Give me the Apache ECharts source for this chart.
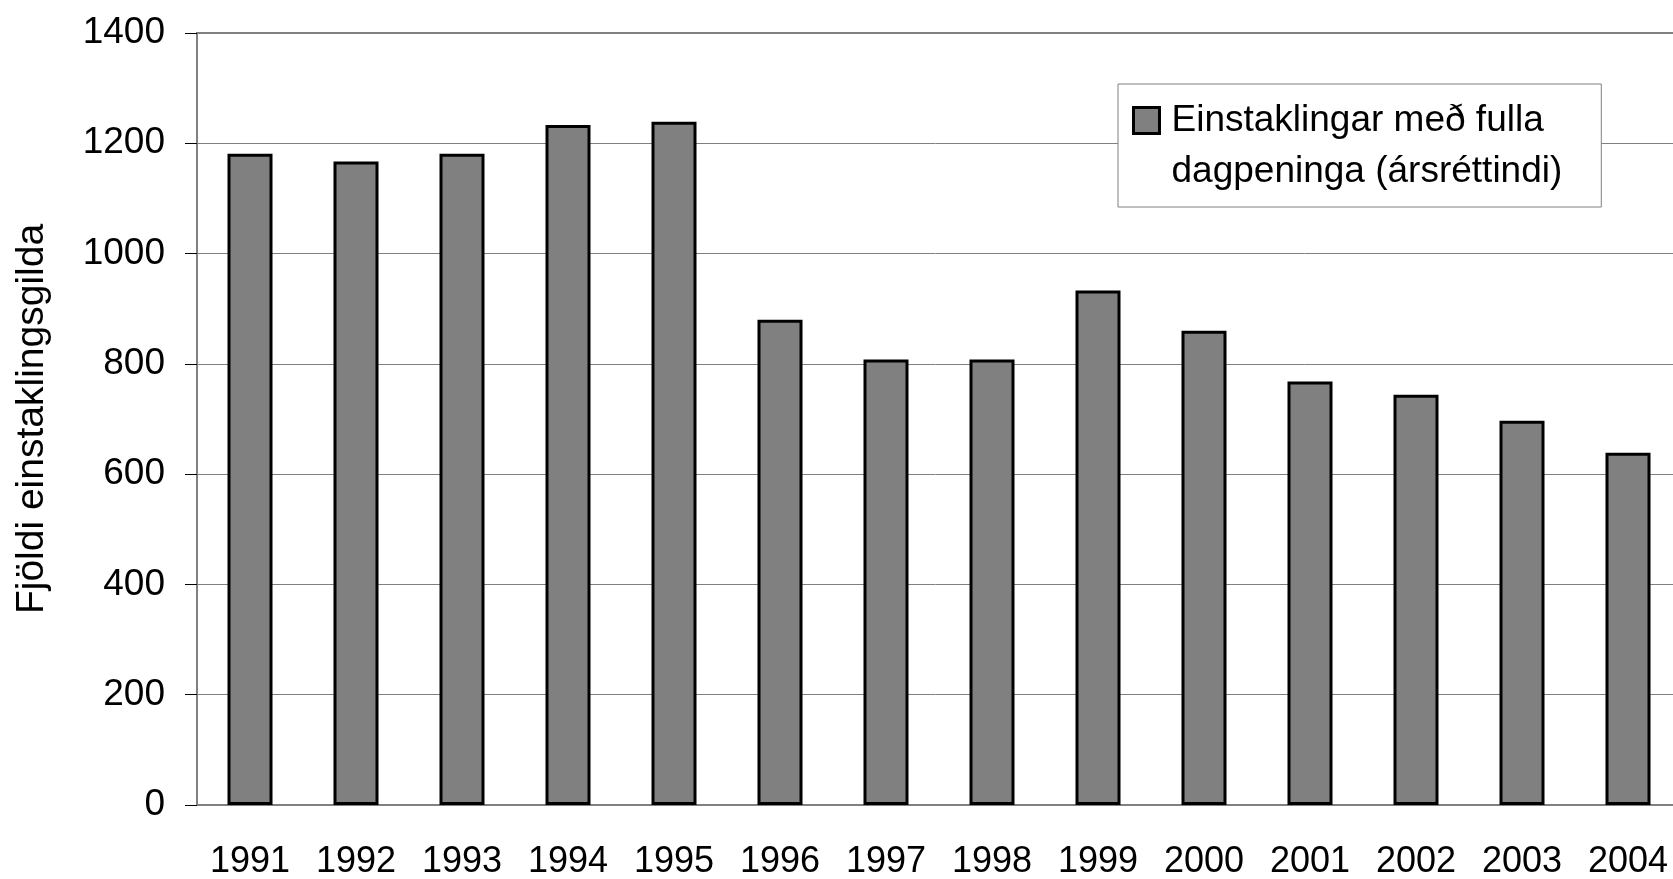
<!DOCTYPE html>
<html>
<head>
<meta charset="utf-8">
<script src="https://cdn.jsdelivr.net/npm/echarts@6/dist/echarts.min.js"></script>
<style>
  html, body { margin: 0; padding: 0; background: #fff; }
  #chart { width: 1673px; height: 879px; }
</style>
</head>
<body>
<div id="chart"></div>
<script>
// gögn lesin af myndinni
var years = ['1991', '1992', '1993', '1994', '1995', '1996', '1997', '1998', '1999', '2000', '2001', '2002', '2003', '2004']
var fullBenefits = [1181, 1167, 1181, 1233, 1239, 880, 808, 808, 933, 860, 768, 744, 697, 639]
var seriesName = 'Einstaklingar með fulla\ndagpeninga (ársréttindi)'
var yTitle = 'Fjöldi einstaklingsgilda'

var font = '"Liberation Sans", Arial, sans-serif'

// ferningur efst, ósýnilegur punktur neðst svo táknið standi við fyrstu línu
var legendIcon = 'path://M0,0L26,0L26,26L0,26Z M33,77L33,77'

var chart = echarts.init(document.getElementById('chart'))
chart.setOption({
  animation: false,
  textStyle: { fontFamily: font },
  grid: {
    left: 197,
    top: 33,
    bottom: 74,
    right: -8,
    outerBoundsMode: 'none',
    containLabel: false,
    show: true,
    borderColor: '#808080',
    borderWidth: 2
  },
  legend: {
    left: 1118,
    top: 84,
    orient: 'vertical',
    itemWidth: 33,
    itemHeight: 77,
    itemGap: 0,
    padding: [11, 39, 10, 14],
    backgroundColor: '#fff',
    borderColor: '#808080',
    borderWidth: 1,
    borderRadius: 0,
    textStyle: {
      fontFamily: font,
      fontSize: 37,
      color: '#000',
      lineHeight: 51
    },
    data: [{ name: seriesName, icon: legendIcon, itemStyle: { borderColor: '#000', borderWidth: 3 } }]
  },
  xAxis: {
    type: 'category',
    data: years,
    axisLine: { lineStyle: { color: '#808080', width: 2 } },
    axisTick: { length: 11, lineStyle: { color: '#000', width: 1 } },
    axisLabel: { color: '#000', fontSize: 36, margin: 39, fontFamily: font }
  },
  yAxis: {
    type: 'value',
    min: 0,
    max: 1400,
    interval: 200,
    name: yTitle,
    nameLocation: 'middle',
    nameGap: 145,
    nameTextStyle: { color: '#000', fontSize: 39, fontFamily: font },
    axisLine: { show: true, lineStyle: { color: '#808080', width: 2 } },
    axisTick: { show: true, length: 12, lineStyle: { color: '#000', width: 1 } },
    axisLabel: {
      color: '#000',
      fontSize: 37,
      margin: 32,
      fontFamily: font,
      formatter: function (v) { return String(v) }
    },
    splitLine: { lineStyle: { color: '#808080', width: 1 } }
  },
  series: [
    {
      name: seriesName,
      type: 'bar',
      data: fullBenefits,
      barWidth: 45,
      itemStyle: { color: '#808080', borderColor: '#000', borderWidth: 3 }
    }
  ]
})
</script>
</body>
</html>
